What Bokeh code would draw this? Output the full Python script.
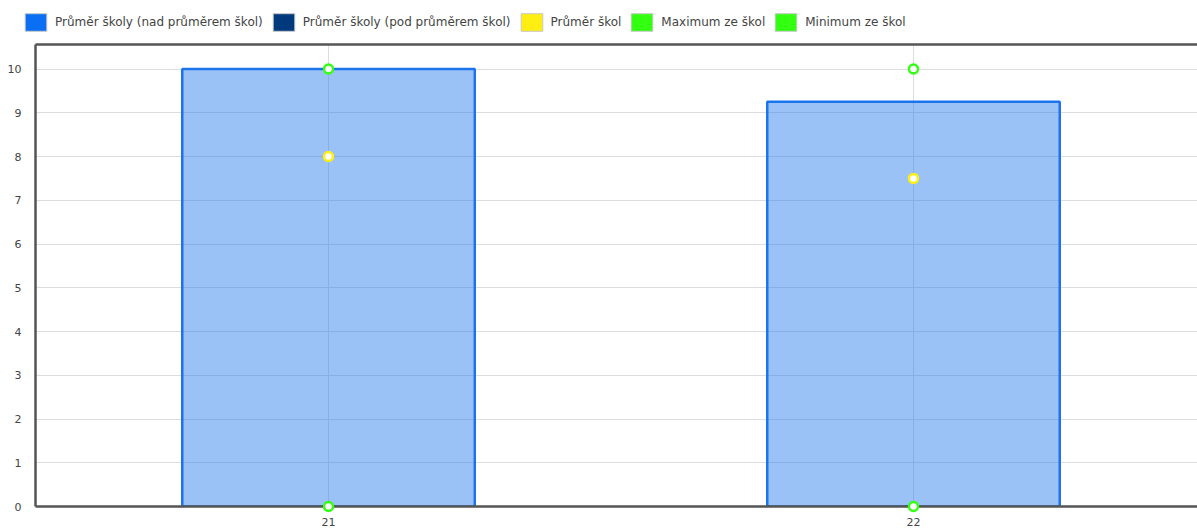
from bokeh.plotting import figure
from bokeh.layouts import column
from bokeh.models import (Range1d, FixedTicker, LinearAxis, Legend, LegendItem,
                          ColumnDataSource, Grid)
from bokeh.embed import file_html
from bokeh.resources import INLINE

# ---- data ----
categories = ["21", "22"]
school_avg = [10, 9.25]      # Průměr školy
all_avg = [8, 7.5]           # Průměr škol
all_max = [10, 10]           # Maximum ze škol
all_min = [0, 0]             # Minimum ze škol

legend_labels = ["Průměr školy (nad průměrem škol)", "Průměr školy (pod průměrem škol)",
                 "Průměr škol", "Maximum ze škol", "Minimum ze škol"]
legend_colors = ["#0a6ff2", "#003a7d", "#ffee11", "#33ff11", "#33ff11"]

x_pos = list(range(len(categories)))
above = [s if s >= a else float("nan") for s, a in zip(school_avg, all_avg)]
below = [s if s < a else float("nan") for s, a in zip(school_avg, all_avg)]

FONT = "DejaVu Sans"
W = 1197
LEG_H = 36

# ---- legend strip ----
lf = figure(width=W, height=LEG_H, output_backend="svg", toolbar_location=None,
            x_range=Range1d(0, 1), y_range=Range1d(0, 1),
            min_border_left=0, min_border_right=0, min_border_top=0, min_border_bottom=0,
            x_axis_type=None, y_axis_type=None)
lf.frame_align = False
lf.outline_line_color = None
lf.xgrid.visible = False
lf.ygrid.visible = False
nan = float("nan")
items = []
for lab, c in zip(legend_labels, legend_colors):
    r = lf.rect(x=[nan], y=[nan], width=1, height=1, fill_color=c,
                line_color="#c8c8c8", line_width=1)
    items.append(LegendItem(label=lab, renderers=[r]))
legend = Legend(items=items, orientation="horizontal", location=(22, 3),
                label_text_font=FONT, label_text_font_size="12px", label_text_color="#444444",
                glyph_width=27, glyph_height=22, label_standoff=6, spacing=7,
                padding=0, margin=0, border_line_alpha=0, background_fill_alpha=0)
lf.add_layout(legend, "center")

# ---- main chart ----
p = figure(width=W, height=529 - LEG_H, output_backend="svg", toolbar_location=None,
           x_range=Range1d(-0.5009, 1.4855), y_range=Range1d(0, 10.56),
           min_border_left=35, min_border_right=0, min_border_top=8,
           min_border_bottom=23, x_axis_type=None, y_axis_type=None)
p.frame_align = False
p.outline_line_color = None
p.background_fill_color = "white"
p.border_fill_color = "white"

yaxis = LinearAxis(ticker=FixedTicker(ticks=list(range(0, 11))))
xaxis = LinearAxis(ticker=FixedTicker(ticks=x_pos),
                   major_label_overrides={i: c for i, c in zip(x_pos, categories)})
topaxis = LinearAxis(ticker=FixedTicker(ticks=[]))
for ax in (yaxis, xaxis, topaxis):
    ax.axis_line_color = "#555555"
    ax.axis_line_width = 2.5
    ax.major_tick_line_color = None
    ax.minor_tick_line_color = None
    ax.major_label_text_font = FONT
    ax.major_label_text_font_size = "11px"
    ax.major_label_text_color = "#444444"
yaxis.major_label_standoff = 8
xaxis.major_label_standoff = 5
topaxis.major_label_text_font_size = "0px"
topaxis.major_label_standoff = 0
p.add_layout(yaxis, "left")
p.add_layout(xaxis, "below")
p.add_layout(topaxis, "above")

p.add_layout(Grid(dimension=1, ticker=yaxis.ticker, grid_line_color="#dddddd", grid_line_width=1))
p.add_layout(Grid(dimension=0, ticker=xaxis.ticker, grid_line_color="#dddddd", grid_line_width=1))

src = ColumnDataSource(dict(x=x_pos, above=above, below=below, avg=all_avg,
                            mx=all_max, mn=all_min))

p.vbar(x="x", top="above", width=0.5, bottom=0, source=src,
       fill_color="#2f80ed", fill_alpha=0.48, line_color="#1c74ec", line_width=2.5)
p.vbar(x="x", top="below", width=0.5, bottom=0, source=src,
       fill_color="#003a7d", fill_alpha=0.48, line_color="#003a7d", line_width=2.5)

for col, color in (("avg", legend_colors[2]), ("mx", legend_colors[3]), ("mn", legend_colors[4])):
    r = p.scatter(x="x", y=col, source=src, size=9, marker="circle",
                  fill_color="white", line_color=color, line_width=2.5)
    r.level = "overlay"

layout = column(lf, p, spacing=0)
open("out.html", "w").write(file_html(layout, INLINE))
